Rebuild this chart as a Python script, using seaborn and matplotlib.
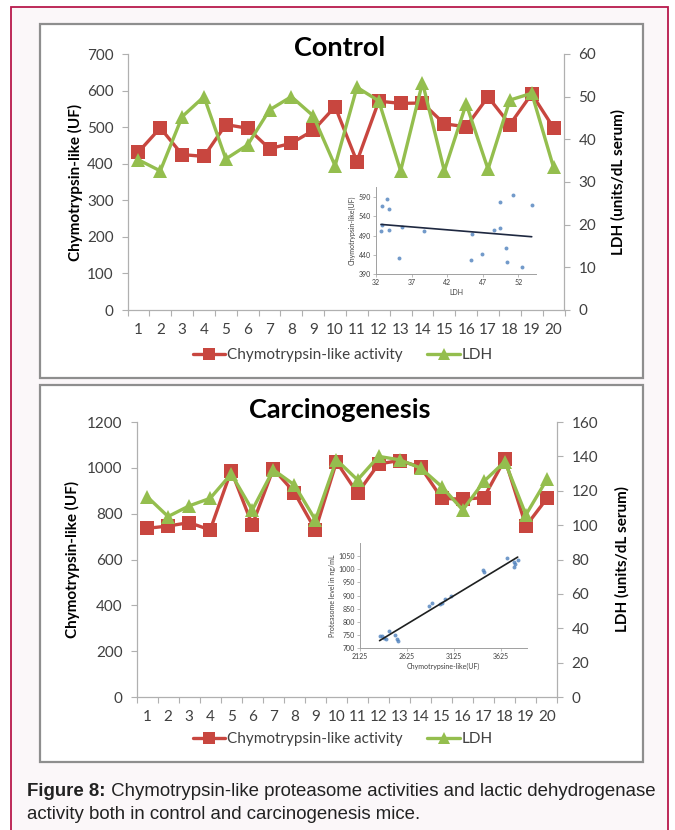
import numpy as np
import pandas as pd
import matplotlib
matplotlib.use("Agg")
import matplotlib.pyplot as plt
from matplotlib.patches import Rectangle
from matplotlib.lines import Line2D
import seaborn as sns

# ---------------- data ----------------
days = list(range(1, 21))
ctrl_chymo = [432, 498, 425, 420, 507, 497, 441, 456, 491, 556, 406,
              571, 565, 566, 509, 501, 583, 507, 591, 498]
ctrl_ldh = [35.2, 32.6, 45.3, 50.0, 35.4, 38.7, 46.9, 50.0, 45.5, 33.8, 52.2,
            49.0, 32.6, 53.3, 32.6, 48.3, 33.0, 49.2, 50.8, 33.4]
carc_chymo = [736, 746, 761, 729, 988, 751, 996, 892, 729, 1026, 889,
              1017, 1032, 1003, 867, 863, 870, 1038, 746, 867]
carc_ldh = [116.6, 105.0, 111.2, 115.6, 129.8, 108.8, 132.2, 123.4, 103.0, 138.0,
            126.3, 140.0, 138.0, 133.2, 122.4, 108.8, 125.4, 137.0, 106.0, 126.7]

# inset (control): LDH vs Chymotrypsin-like
ins1_ldh = [32.7, 32.9, 32.9, 33.5, 33.8, 33.8, 35.2, 35.6, 38.8, 45.5,
            45.4, 46.9, 48.6, 49.4, 49.4, 50.3, 50.4, 51.3, 52.6, 53.9]
ins1_chy = [501, 566, 516, 586, 559, 503, 432, 511, 501, 494,
            426, 443, 504, 576, 509, 458, 420, 595, 408, 568]
# inset (carcinogenesis): Chymotrypsine-like vs proteasome level
ins2_chy = [2333, 2362, 2380, 2406, 2428, 2501, 2515, 2526, 2855, 2891, 2975,
            3001, 3026, 3092, 3428, 3442, 3691, 3760, 3764, 3771, 3801]
ins2_prot = [746, 746, 737, 734, 766, 750, 734, 727, 860, 871, 866,
             871, 887, 897, 996, 991, 1041, 1029, 1009, 1019, 1037]

series_names = ["Chymotrypsin-like activity", "LDH"]
panel_titles = ["Control", "Carcinogenesis"]
caption_bold = "Figure 8:"
caption_rest = " Chymotrypsin-like proteasome activities and lactic dehydrogenase"
caption_line2 = "activity both in control and carcinogenesis mice."

# ---------------- style ----------------
sns.set_theme(style="white")
plt.rcParams['font.family'] = ['Lato', 'DejaVu Sans']

W, H = 675, 830
RED = "#C8463F"
GREEN = "#94BE4E"
BLUE = "#4F81BD"
TXT = "#404040"
SPINE = "#B0B0B0"

fig = plt.figure(figsize=(W / 100, H / 100), dpi=100)
fig.patch.set_facecolor("white")


def box(x0, y0, x1, y1):
    return [x0 / W, 1 - y1 / H, (x1 - x0) / W, (y1 - y0) / H]


# outer frame & panels
fig.patches.append(Rectangle((11 / W, 1 - 840 / H), (668 - 11) / W, (840 - 7) / H,
                             transform=fig.transFigure, facecolor="#FBF7F9",
                             edgecolor="#B8194C", linewidth=1.3, zorder=-3))
for (x0, y0, x1, y1) in [(40, 24, 643, 378), (40, 385, 643, 762)]:
    fig.patches.append(Rectangle((x0 / W, 1 - y1 / H), (x1 - x0) / W, (y1 - y0) / H,
                                 transform=fig.transFigure, facecolor="white",
                                 edgecolor="#8E8E8E", linewidth=1.6, zorder=-2))


def main_chart(rect, chymo, ldh, ymax, ystep, rmax, rstep, title, title_xy,
               ylab_x, rlab_x, legend_y):
    ax = fig.add_axes(box(*rect))
    ax.set_facecolor("none")
    df = pd.DataFrame({"day": days, "chymo": chymo, "ldh": ldh})
    sns.lineplot(data=df, x="day", y="chymo", ax=ax, color=RED, marker="s",
                 markersize=9.5, markeredgewidth=0, linewidth=2.4)
    ax2 = ax.twinx()
    sns.lineplot(data=df, x="day", y="ldh", ax=ax2, color=GREEN, marker="^",
                 markersize=10.5, markeredgewidth=0, linewidth=2.4)
    ax.set_xlim(0.5, 20.5)
    ax.set_ylim(0, ymax)
    ax2.set_ylim(0, rmax)
    ax.set_yticks(np.arange(0, ymax + 1, ystep))
    ax2.set_yticks(np.arange(0, rmax + 1, rstep))
    ax.set_xticks(days)
    ax.set_xticks(np.arange(0.5, 21, 1), minor=True)
    ax.tick_params(axis="x", which="major", length=0, pad=9, labelsize=11, labelcolor=TXT)
    ax.tick_params(axis="x", which="minor", length=4, color=SPINE, width=0.8,
                   direction="out", bottom=True)
    ax.tick_params(axis="y", length=4, color=SPINE, width=0.8, labelsize=11,
                   labelcolor=TXT, pad=6, left=True)
    ax2.tick_params(axis="y", length=4, color=SPINE, width=0.8, labelsize=11,
                    labelcolor=TXT, pad=6, right=True)
    for a in (ax, ax2):
        a.set_xlabel("")
        a.set_ylabel("")
        for s in a.spines.values():
            s.set_visible(False)
    ax.spines["left"].set_visible(True)
    ax.spines["bottom"].set_visible(True)
    ax2.spines["right"].set_visible(True)
    for s in (ax.spines["left"], ax.spines["bottom"], ax2.spines["right"]):
        s.set_color(SPINE)
        s.set_linewidth(0.9)
    fig.text(title_xy[0] / W, 1 - title_xy[1] / H, title, ha="center", va="center",
             fontsize=19.5, fontweight="bold", color="black")
    ymid = 1 - (rect[1] + rect[3]) / 2 / H
    fig.text(ylab_x / W, ymid, "Chymotrypsin-like (UF)", rotation=90, ha="center",
             va="center", fontsize=11, fontweight="bold", color="black")
    fig.text(rlab_x / W, ymid, "LDH (units/dL serum)", rotation=90, ha="center",
             va="center", fontsize=11, fontweight="bold", color="black")
    handles = [Line2D([], [], color=RED, marker="s", markersize=9, lw=2.4, markeredgewidth=0),
               Line2D([], [], color=GREEN, marker="^", markersize=9, lw=2.4, markeredgewidth=0)]
    fig.legend(handles, series_names, loc="center", bbox_to_anchor=(343 / W, 1 - legend_y / H),
               ncol=2, frameon=False, fontsize=11, handlelength=2.1, handletextpad=0.15,
               columnspacing=1.6, labelcolor=TXT)
    return ax


main_chart((127.5, 54, 564.5, 310), ctrl_chymo, ctrl_ldh, 700, 100, 60, 10,
           panel_titles[0], (340, 48), 75, 618, 355)
main_chart((136.5, 422, 557.5, 697), carc_chymo, carc_ldh, 1200, 200, 160, 20,
           panel_titles[1], (340, 410), 72, 622, 739)


def style_inset(a, xl, yl):
    a.set_facecolor("none")
    for side in ("top", "right"):
        a.spines[side].set_visible(False)
    for side in ("left", "bottom"):
        a.spines[side].set_color("#A0A0A0")
        a.spines[side].set_linewidth(0.7)
    a.tick_params(labelsize=5, length=2, width=0.5, color="#A0A0A0",
                  labelcolor=TXT, pad=1.5, left=True, bottom=True)
    a.set_xlabel(xl, fontsize=5, color=TXT, labelpad=2)
    a.set_ylabel(yl, fontsize=5, color=TXT, labelpad=2)


# inset 1
ai1 = fig.add_axes(box(376, 187, 536, 274))
sns.regplot(x=ins1_ldh, y=ins1_chy, ax=ai1, ci=None, truncate=True,
            scatter_kws={"s": 8, "color": BLUE, "linewidths": 0},
            line_kws={"color": "#1E2840", "lw": 1.2})
ai1.set_xlim(32, 54.5)
ai1.set_ylim(390, 616)
ai1.set_xticks([32, 37, 42, 47, 52])
ai1.set_yticks([390, 440, 490, 540, 590])
style_inset(ai1, "LDH", "Chymotrypsin-like(UF)")

# inset 2
ai2 = fig.add_axes(box(360, 543, 527, 648))
sns.regplot(x=ins2_chy, y=ins2_prot, ax=ai2, ci=None, truncate=True,
            scatter_kws={"s": 8, "color": BLUE, "linewidths": 0},
            line_kws={"color": "#1E2020", "lw": 1.2})
ai2.set_xlim(2125, 3900)
ai2.set_ylim(700, 1100)
ai2.set_xticks([2125, 2625, 3125, 3625])
ai2.set_yticks([700, 750, 800, 850, 900, 950, 1000, 1050])
style_inset(ai2, "Chymotrypsine-like(UF)", "Proteasome level in ng/mL")

# caption
cap_font = ['Liberation Sans', 'DejaVu Sans']
t1 = fig.text(27 / W, 1 - 791 / H, caption_bold, ha="left", va="center",
              fontsize=13.4, fontweight="bold", family=cap_font, color="#222222")
fig.canvas.draw()
r = fig.canvas.get_renderer()
bb = t1.get_window_extent(renderer=r)
fig.text(bb.x1 / W, 1 - 791 / H, caption_rest, ha="left", va="center",
         fontsize=13.4, family=cap_font, color="#222222")
fig.text(27 / W, 1 - 814 / H, caption_line2, ha="left", va="center",
         fontsize=13.4, family=cap_font, color="#222222")

fig.savefig("out.png", dpi=100)
